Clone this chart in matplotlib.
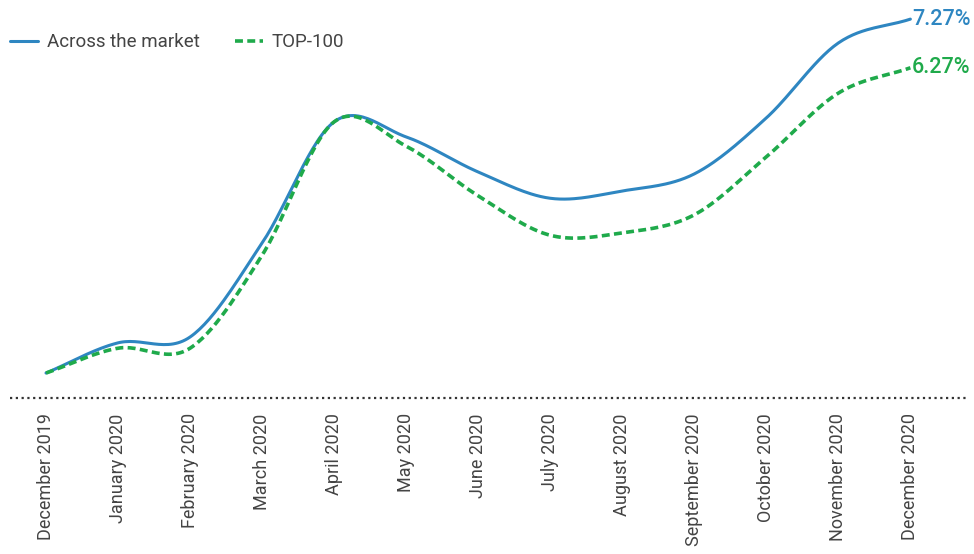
import matplotlib
matplotlib.use('Agg')
import matplotlib.pyplot as plt
import numpy as np

plt.rcParams['font.family'] = ['Roboto', 'DejaVu Sans']

months = ['December 2019', 'January 2020', 'February 2020', 'March 2020',
          'April 2020', 'May 2020', 'June 2020', 'July 2020', 'August 2020',
          'September 2020', 'October 2020', 'November 2020', 'December 2020']
market = [0.0, 0.62, 0.74, 2.67, 5.16, 4.85, 4.13, 3.59, 3.74, 4.09, 5.24, 6.78, 7.27]
top100 = [0.0, 0.51, 0.51, 2.42, 5.16, 4.66, 3.64, 2.83, 2.88, 3.25, 4.44, 5.75, 6.27]
series_names = ['Across the market', 'TOP-100']
end_labels = ['7.27%', '6.27%']

blue = '#2e86c1'
green = '#1faa4b'
grey = '#444444'


def smooth(x, y, n=30):
	# Catmull-Rom curve through the points, used only for drawing
	x = np.asarray(x, float)
	y = np.asarray(y, float)
	px = np.concatenate([[2 * x[0] - x[1]], x, [2 * x[-1] - x[-2]]])
	py = np.concatenate([[2 * y[0] - y[1]], y, [2 * y[-1] - y[-2]]])
	xs, ys = [], []
	t = np.linspace(0, 1, n, endpoint=False)
	for i in range(1, len(px) - 2):
		for p, out in ((px, xs), (py, ys)):
			p0, p1, p2, p3 = p[i - 1], p[i], p[i + 1], p[i + 2]
			out.append(0.5 * (2 * p1 + (-p0 + p2) * t
				+ (2 * p0 - 5 * p1 + 4 * p2 - p3) * t ** 2
				+ (-p0 + 3 * p1 - 3 * p2 + p3) * t ** 3))
	xs.append([x[-1]])
	ys.append([y[-1]])
	return np.concatenate(xs), np.concatenate(ys)


fig = plt.figure(figsize=(9.74, 5.54), dpi=100)
ax = fig.add_axes([10 / 974, 156 / 554, 958 / 974, 393 / 554])

xi = np.arange(len(months))
sx, sy = smooth(xi, market)
ax.plot(sx, sy, color=blue, lw=2.2, label=series_names[0], solid_capstyle='round')
sx, sy = smooth(xi, top100)
ax.plot(sx, sy, color=green, lw=2.6, dashes=(2.2, 1.2), label=series_names[1])

ax.set_xlim(-0.5, 12.8)
ax.set_ylim(-0.513, 7.56)

ax.annotate(end_labels[0], (xi[-1], market[-1]), xytext=(1, 0), textcoords='offset points',
	color=blue, fontsize=15.5, fontweight='medium', va='center', ha='left')
ax.annotate(end_labels[1], (xi[-1], top100[-1]), xytext=(1, 0), textcoords='offset points',
	color=green, fontsize=15.5, fontweight='medium', va='center', ha='left')

ax.axhline(-0.513, color='#333333', lw=1.6, ls=(0, (1, 1.6)), clip_on=False)

ax.set_xticks(xi)
ax.set_xticklabels(months, rotation=90, fontsize=13, color=grey)
ax.tick_params(axis='x', length=0, pad=11)
ax.set_yticks([])
for s in ax.spines.values():
	s.set_visible(False)

fig.legend(loc='upper left', bbox_to_anchor=(10 / 974, 0.94), ncol=2, frameon=False,
	fontsize=13.5, labelcolor=grey, handlelength=1.5, handletextpad=0.45,
	columnspacing=1.9, borderaxespad=0.0, borderpad=0.0)

fig.savefig('out.png', dpi=100)
